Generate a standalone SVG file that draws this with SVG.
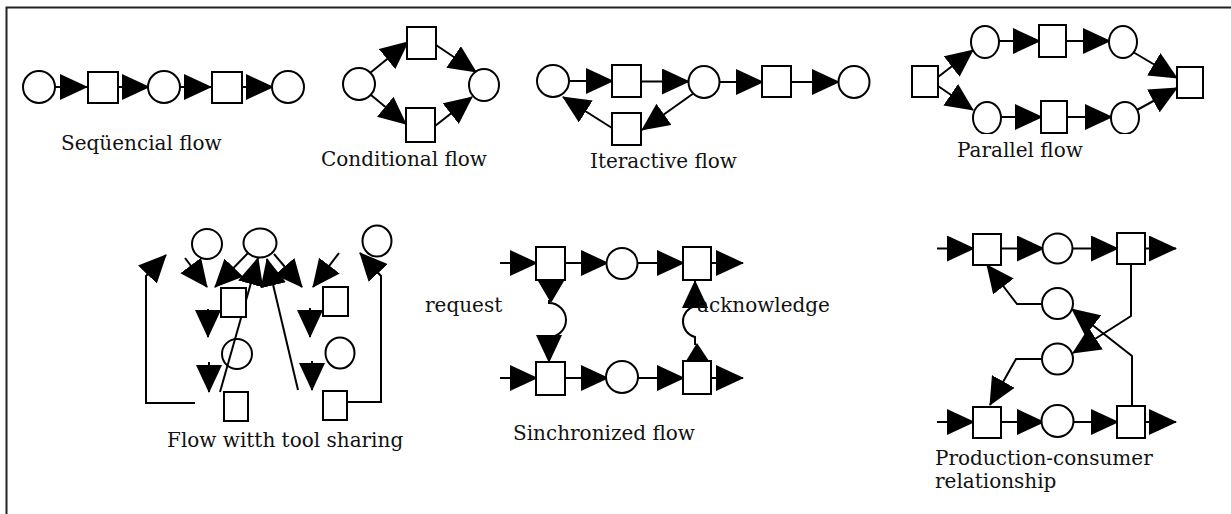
<svg xmlns="http://www.w3.org/2000/svg" width="1231" height="514" viewBox="0 0 1231 514">
<style>
.n{fill:#fff;stroke:#000;stroke-width:2}
.c{fill:none;stroke:#000;stroke-width:2;marker-end:url(#ah)}
.p{fill:none;stroke:#000;stroke-width:2}
.h{fill:#000;stroke:none}
text{font-family:"DejaVu Serif","Liberation Serif",serif;font-size:20px;fill:#111}
</style>
<defs>
<marker id="ah" viewBox="0 0 28 26" refX="27" refY="13" markerWidth="28" markerHeight="26" markerUnits="userSpaceOnUse" orient="auto">
<path d="M0,0 L28,13 L0,26 z" fill="#000"/>
</marker>
<clipPath id="clipPar"><rect x="900" y="0" width="331" height="134"/></clipPath>
</defs>
<rect x="6.5" y="7.5" width="1240" height="520" fill="#fff" stroke="#222" stroke-width="2"/>

<g id="connectors">
<!-- sequential -->
<line class="c" x1="55" y1="87" x2="87" y2="87"/>
<line class="c" x1="118" y1="87" x2="149" y2="87"/>
<line class="c" x1="180" y1="87" x2="211" y2="87"/>
<line class="c" x1="242" y1="87" x2="273" y2="87"/>
<!-- conditional -->
<line class="c" x1="370" y1="73" x2="408" y2="42"/>
<line class="c" x1="371" y1="95" x2="406" y2="124"/>
<line class="c" x1="436" y1="45" x2="476" y2="72"/>
<line class="c" x1="435" y1="126" x2="472" y2="97"/>
<!-- iterative -->
<line class="c" x1="569" y1="81" x2="613" y2="81"/>
<line class="c" x1="641" y1="81.5" x2="689" y2="81.5"/>
<line class="c" x1="719" y1="82" x2="763" y2="82"/>
<line class="c" x1="791" y1="82" x2="839" y2="82"/>
<line class="c" x1="694" y1="93" x2="642" y2="130"/>
<line class="c" x1="612" y1="128" x2="563" y2="97"/>
<!-- parallel -->
<line class="c" x1="999" y1="41" x2="1040" y2="41"/>
<line class="c" x1="1066" y1="41" x2="1110" y2="41"/>
<line class="c" x1="1001" y1="117" x2="1042" y2="117"/>
<line class="c" x1="1067" y1="117" x2="1112" y2="117"/>
<line class="c" x1="938" y1="77" x2="973" y2="50"/>
<line class="c" x1="938" y1="86" x2="973" y2="110"/>
<line class="c" x1="1133" y1="52" x2="1177" y2="78"/>
<line class="c" x1="1137" y1="110" x2="1177" y2="88"/>
<!-- tool sharing -->
<line class="c" x1="185" y1="258" x2="207" y2="287"/>
<line class="c" x1="248" y1="253" x2="215" y2="287"/>
<line class="c" x1="274" y1="254" x2="302" y2="287"/>
<line class="c" x1="339" y1="253" x2="313" y2="287"/>
<line class="c" x1="220" y1="392" x2="258" y2="258"/>
<line class="c" x1="298" y1="390" x2="267" y2="259"/>
<path class="c" d="M195 403 H146 V276 L166 255"/>
<path class="c" d="M348 402 H381 V276 L360 253"/>
<line class="c" x1="208" y1="309" x2="208" y2="337"/>
<line class="c" x1="209" y1="362" x2="209" y2="392"/>
<line class="c" x1="310" y1="308" x2="310" y2="337"/>
<line class="c" x1="312" y1="361" x2="312" y2="390"/>
<!-- synchronized -->
<line class="c" x1="500" y1="263" x2="537" y2="263"/>
<line class="c" x1="565" y1="263" x2="608" y2="263"/>
<line class="c" x1="638" y1="263" x2="684" y2="263"/>
<line class="c" x1="711" y1="263" x2="743" y2="263"/>
<line class="c" x1="500" y1="378" x2="537" y2="378"/>
<line class="c" x1="565" y1="378" x2="608" y2="378"/>
<line class="c" x1="638" y1="378" x2="684" y2="378"/>
<line class="c" x1="711" y1="378" x2="743" y2="378"/>
<polygon class="h" points="538,281 564,281 551,303"/>
<path class="c" d="M549 300 V303 A17 17 0 0 1 549 337 V362"/>
<polygon class="h" points="686,361 709,361 697,343"/>
<path class="c" d="M695 345 V337 A16 16 0 0 1 695 306 V281"/>
<!-- production-consumer -->
<line class="c" x1="937" y1="248.5" x2="974" y2="248.5"/>
<line class="c" x1="1001" y1="248.5" x2="1044" y2="248.5"/>
<line class="c" x1="1072" y1="248.5" x2="1118" y2="248.5"/>
<line class="c" x1="1145" y1="248.5" x2="1176" y2="248.5"/>
<line class="c" x1="937" y1="422" x2="974" y2="422"/>
<line class="c" x1="1001" y1="422" x2="1044" y2="422"/>
<line class="c" x1="1072" y1="422" x2="1118" y2="422"/>
<line class="c" x1="1145" y1="422" x2="1176" y2="422"/>
<path class="c" d="M1043 304 H1017 L987 265"/>
<path class="c" d="M1043 359 H1016 L990 405"/>
<path class="c" d="M1131 264 V316 L1073 353"/>
<path class="c" d="M1132 406 V356 L1072 309"/>
</g>

<g id="sequential">
<circle id="s1" class="n" cx="39" cy="87" r="16"/>
<rect id="s2" class="n" x="88" y="72" width="30" height="31"/>
<circle id="s3" class="n" cx="164" cy="87" r="16"/>
<rect id="s4" class="n" x="212" y="72" width="30" height="31"/>
<circle id="s5" class="n" cx="288" cy="87" r="16"/>
<text x="61" y="150">Seqüencial flow</text>
</g>

<g id="conditional">
<circle id="c1" class="n" cx="359" cy="84" r="16"/>
<rect id="c2" class="n" x="407" y="27" width="29" height="32"/>
<rect id="c3" class="n" x="406" y="108" width="29" height="34"/>
<ellipse id="c4" class="n" cx="484" cy="85" rx="15" ry="16"/>
<text x="321" y="166">Conditional flow</text>
</g>

<g id="iterative">
<circle id="i1" class="n" cx="553" cy="81" r="16"/>
<rect id="i2" class="n" x="612" y="65" width="29" height="32"/>
<ellipse id="i3" class="n" cx="704" cy="82" rx="15.5" ry="16"/>
<rect id="i4" class="n" x="762" y="66" width="29" height="31"/>
<ellipse id="i5" class="n" cx="854" cy="82" rx="15.5" ry="16"/>
<rect id="i6" class="n" x="612" y="113" width="29" height="32"/>
<text x="590" y="168">Iteractive flow</text>
</g>

<g id="parallel">
<rect id="p1" class="n" x="912" y="66" width="26" height="31"/>
<ellipse id="p2" class="n" cx="985" cy="42" rx="14" ry="16"/>
<rect id="p3" class="n" x="1039" y="25" width="27" height="32"/>
<ellipse id="p4" class="n" cx="1123" cy="42" rx="14" ry="16"/>
<rect id="p5" class="n" x="1177" y="67" width="26" height="31"/>
<g clip-path="url(#clipPar)">
<ellipse id="p6" class="n" cx="987" cy="118" rx="14" ry="16"/>
<ellipse id="p8" class="n" cx="1125" cy="118" rx="14" ry="16"/>
</g>
<rect id="p7" class="n" x="1041" y="101" width="26" height="32"/>
<text x="957" y="157">Parallel flow</text>
</g>

<g id="toolsharing">
<circle id="t1" class="n" cx="207" cy="244" r="15"/>
<ellipse id="t2" class="n" cx="260" cy="243" rx="16.5" ry="14.5"/>
<ellipse id="t3" class="n" cx="377" cy="241" rx="14.5" ry="15.5"/>
<rect id="t4" class="n" x="221" y="288" width="25" height="29"/>
<rect id="t5" class="n" x="323" y="287" width="25" height="29"/>
<circle id="t6" class="p" cx="237" cy="354" r="15"/>
<ellipse id="t7" class="n" cx="340" cy="353" rx="14.5" ry="15.5"/>
<rect id="t8" class="n" x="224" y="392" width="24" height="29"/>
<rect id="t9" class="n" x="323" y="391" width="24" height="29"/>
<text x="167" y="447">Flow witth tool sharing</text>
</g>

<g id="synchronized">
<rect id="y1" class="n" x="536" y="247" width="29" height="33"/>
<circle id="y2" class="n" cx="622" cy="263.5" r="15.5"/>
<rect id="y3" class="n" x="683" y="247" width="28" height="33"/>
<rect id="y4" class="n" x="536" y="362" width="29" height="33"/>
<circle id="y5" class="n" cx="622" cy="377" r="16"/>
<rect id="y6" class="n" x="683" y="361" width="28" height="33"/>
<text x="425" y="312">request</text>
<text x="697" y="312">acknowledge</text>
<text x="513" y="440">Sinchronized flow</text>
</g>

<g id="prodcons">
<rect id="r1" class="n" x="973" y="234" width="28" height="31"/>
<circle id="r2" class="n" cx="1057.5" cy="248.5" r="15"/>
<rect id="r3" class="n" x="1117" y="233" width="28" height="31"/>
<circle id="r4" class="n" cx="1057.5" cy="303.5" r="15.5"/>
<circle id="r5" class="n" cx="1057.5" cy="359" r="15.5"/>
<rect id="r6" class="n" x="973" y="407" width="28" height="31"/>
<circle id="r7" class="n" cx="1057.5" cy="421" r="16"/>
<rect id="r8" class="n" x="1117" y="406" width="28" height="32"/>
<text x="935" y="465">Production-consumer</text>
<text x="935" y="488">relationship</text>
</g>
</svg>
